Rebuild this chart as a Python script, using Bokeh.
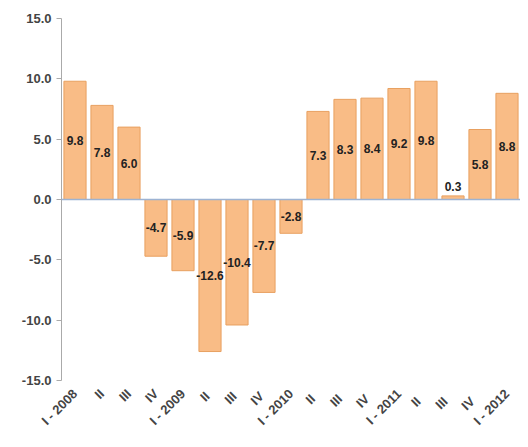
from bokeh.models import ColumnDataSource, Range1d, FixedTicker, Span, CustomJSTickFormatter
from bokeh.core.properties import value
from bokeh.plotting import figure
from bokeh.embed import file_html
from bokeh.resources import INLINE

quarters = ["I - 2008", "II", "III", "IV", "I - 2009", "II ", "III ", "IV ", "I - 2010",
            "II  ", "III  ", "IV  ", "I - 2011", "II   ", "III   ", "IV   ", "I - 2012"]
growth = [9.8, 7.8, 6.0, -4.7, -5.9, -12.6, -10.4, -7.7, -2.8,
          7.3, 8.3, 8.4, 9.2, 9.8, 0.3, 5.8, 8.8]

label_y = [v + 0.8 if abs(v) < 1 else v / 2 for v in growth]
src = ColumnDataSource(dict(x=quarters, top=growth, ly=label_y,
                            txt=["%.1f" % v for v in growth]))

p = figure(x_range=quarters, frame_width=459, frame_height=362, output_backend="svg",
           toolbar_location=None, min_border_top=18, min_border_bottom=20,
           min_border_left=61, min_border_right=0)
p.x_range.range_padding = 0
p.y_range = Range1d(-15, 15)
p.outline_line_color = None
p.grid.visible = False

p.vbar(x="x", top="top", bottom=0, width=0.82, source=src,
       fill_color="#F9BC86", line_color="#E8A060", line_width=1)
p.add_layout(Span(location=0, dimension="width", line_color="#9DB3D3", line_width=1.5))
p.text(x="x", y="ly", text="txt", source=src, text_align="center",
       text_baseline="middle", text_font_size="12px", text_font_style="bold",
       text_color="#222222", text_font=value("Liberation Sans"))

p.yaxis.ticker = FixedTicker(ticks=[-15, -10, -5, 0, 5, 10, 15])
p.yaxis.formatter = CustomJSTickFormatter(code="return tick.toFixed(1);")
for ax in (p.xaxis, p.yaxis):
    ax.major_label_text_font_style = "bold"
    ax.major_label_text_font_size = "13px"
    ax.major_label_text_font = "Liberation Sans"
p.yaxis.axis_line_color = "#AAAAAA"
p.yaxis.major_tick_line_color = "#AAAAAA"
p.yaxis.major_tick_out = 5
p.yaxis.major_tick_in = 0
p.yaxis.minor_tick_line_color = None

p.xaxis.axis_line_color = None
p.xaxis.major_tick_line_color = None
p.xaxis.major_label_orientation = 0.785

open("out.html", "w").write(file_html(p, INLINE))
